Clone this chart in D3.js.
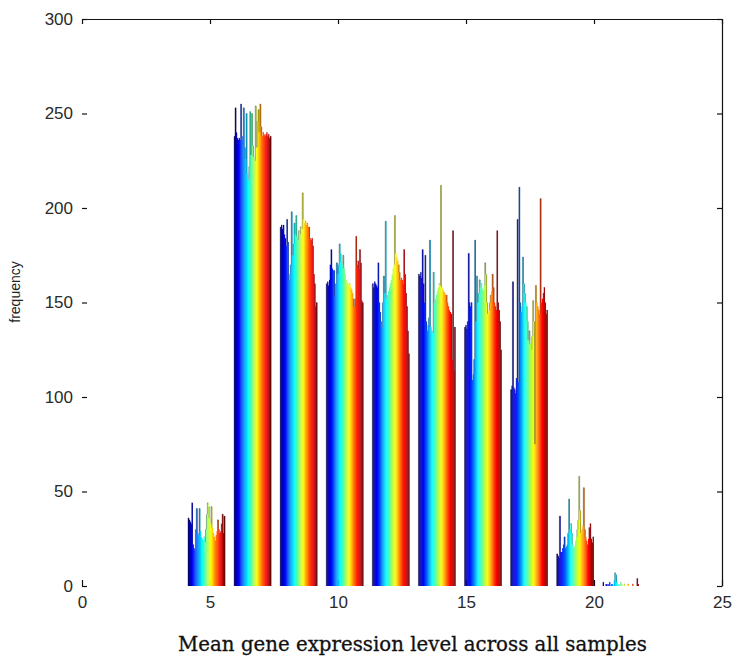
<!DOCTYPE html>
<html>
<head>
<meta charset="utf-8">
<script src="https://cdn.jsdelivr.net/npm/d3@7"></script>
<style>
  html, body { margin: 0; padding: 0; background: #fff; }
  svg { display: block; }
</style>
</head>
<body>
<svg id="chart" width="738" height="663"></svg>
<script>
// ---- data ----
const binCenters = [4.86, 6.66, 8.46, 10.26, 12.06, 13.86, 15.66, 17.46, 19.26, 21.06];
const xTicks = [0, 5, 10, 15, 20, 25];
const yTicks = [0, 50, 100, 150, 200, 250, 300];

const bin1 = [36,35,34,33,44, 22,20,19,30,41, 28,27,41,29,26, 25,24,26,23,30, 38,44,42,36,33, 42,31,28,26,24, 27,29,35,30,28, 29,33,38,28,37];
const bin2 = [238,253,240,237,236, 237,236,255,238,236, 253,232,226,250,218, 215,222,251,228,250, 233,227,225,254,232, 246,252,240,255,243, 238,240,239,238,239, 240,238,239,237,238];
const bin3 = [190,191,189,191,186, 184,180,194,182,162, 165,170,198,175,181, 192,186,196,185,183, 188,186,190,189,208, 194,192,193,191,192, 190,190,184,183,184, 180,165,160,148,150];
const bin4 = [160,161,159,162,170, 178,168,167,167,153, 160,171,165,170,181, 176,172,170,175,168, 165,162,161,160,159, 160,158,157,155,152, 148,152,185,170,172, 168,178,171,151,150];
const bin5 = [160,158,161,160,159, 158,171,150,145,140, 137,150,164,155,193, 152,154,156,158,160, 162,165,168,170,196, 176,174,172,170,166, 162,163,162,160,178, 165,155,148,135,123];
const bin6 = [165,164,166,163,178, 160,150,175,140,135, 138,142,183,137,135, 134,166,150,152,154, 156,158,160,159,212, 158,157,156,155,154, 154,150,148,146,145, 144,120,188,114,137];
const bin7 = [137,138,136,140,176, 150,148,150,109,112, 120,183,140,164,150, 155,162,158,160,157, 156,159,171,165,150, 144,146,150,154,156, 165,158,150,148,146, 188,150,146,140,125];
const bin8 = [104,106,161,105,104, 102,110,194,108,211, 150,145,148,174,160, 155,150,148,140,130, 135,128,125,132,151, 140,75,159,150,148, 146,144,205,150,152, 155,158,150,144,146];
const bin9 = [17,16,15,37,18, 18,20,22,26,20, 21,22,28,46,30, 33,28,22,20,21, 24,26,30,35,58, 40,28,30,32,52, 30,26,24,22,25, 31,33,25,23,26];
const bin10 = [2,0,0,1,1, 0,1,2,0,1, 1,0,3,7,6, 2,1,0,1,2, 1,0,0,1,0, 0,0,1,0,0, 0,0,1,0,0, 0,0,4,1,0];
const bins = [bin1, bin2, bin3, bin4, bin5, bin6, bin7, bin8, bin9, bin10];

const yLabel = "frequency";
const xTitle = "Mean gene expression level across all samples";

// ---- layout ----
const svg = d3.select("#chart");
const x = d3.scaleLinear().domain([0, 25]).range([82, 722]);
const y = d3.scaleLinear().domain([0, 300]).range([586, 19]);
const nSeries = bin1.length;
const binWidth = binCenters[1] - binCenters[0];
const groupW = x(binWidth * 0.8) - x(0);
const sub = d3.scaleBand().domain(d3.range(nSeries)).range([-groupW / 2, groupW / 2]);

function jet(t) {
  const c = v => Math.max(0, Math.min(1, v));
  const r = c(1.5 - Math.abs(4 * t - 3));
  const g = c(1.5 - Math.abs(4 * t - 2));
  const b = c(1.5 - Math.abs(4 * t - 1));
  return d3.rgb(r * 255, g * 255, b * 255).toString();
}
const color = i => jet(i / (nSeries - 1));

const tickFont = "Liberation Sans, Arial, sans-serif";

// axes (ticks inward, MATLAB style)
const gLeft = svg.append("g").attr("transform", `translate(${x(0)},0)`)
  .call(d3.axisLeft(y).tickValues(yTicks).tickSize(-5).tickSizeOuter(0).tickPadding(9));
gLeft.select(".domain").remove();
const gBottom = svg.append("g").attr("transform", `translate(0,${y(0)})`)
  .call(d3.axisBottom(x).tickValues(xTicks).tickSize(-6).tickSizeOuter(0).tickPadding(10));
gBottom.select(".domain").remove();
svg.append("g").attr("transform", `translate(0,${y(300)})`)
  .call(d3.axisTop(x).tickValues(xTicks).tickSize(-5).tickSizeOuter(0).tickFormat(""));
svg.append("g").attr("transform", `translate(${x(25)},0)`)
  .call(d3.axisRight(y).tickValues(yTicks).tickSize(-5).tickSizeOuter(0).tickFormat(""));

svg.selectAll(".tick text").attr("font-family", tickFont).attr("font-size", 17).attr("fill", "#2a2a2a");
svg.selectAll(".tick line, .domain").attr("stroke", "#111").attr("stroke-width", 1.2);

// bars
const bw = sub.bandwidth();
const groups = svg.append("g").selectAll("g.bin")
  .data(bins.map((vals, k) => ({ center: binCenters[k], vals })))
  .join("g").attr("class", "bin");

groups.each(function (d) {
  const g = d3.select(this);
  const cx = x(d.center);
  g.selectAll("rect")
    .data(d.vals.map((v, i) => ({ v, i })).filter(e => e.v > 0))
    .join("rect")
    .attr("x", e => cx + sub(e.i))
    .attr("width", bw + 0.35)
    .attr("y", e => y(e.v))
    .attr("height", e => y(0) - y(e.v))
    .attr("fill", e => color(e.i));
  // exposed edges of spikes (MATLAB black bar edges)
  const path = d3.path();
  d.vals.forEach((v, i) => {
    const l = i > 0 ? d.vals[i - 1] : 0;
    const r = i < d.vals.length - 1 ? d.vals[i + 1] : 0;
    const xl = cx + sub(i), xr = xl + bw;
    if (v - l > 3) { path.moveTo(xl, y(l)); path.lineTo(xl, y(v)); }
    if (v > l && v > r) { path.moveTo(xl, y(v)); path.lineTo(xr, y(v)); }
    if (v - r > 3) { path.moveTo(xr, y(v)); path.lineTo(xr, y(r)); }
  });
  g.append("path").attr("d", path.toString())
    .attr("fill", "none").attr("stroke", "#1a1a2a").attr("stroke-width", 0.5).attr("stroke-opacity", 0.7);
});

// labels
svg.append("text")
  .attr("transform", `translate(20,292) rotate(-90)`)
  .attr("text-anchor", "middle")
  .attr("font-family", tickFont).attr("font-size", 14).attr("fill", "#222")
  .text(yLabel);

const title = svg.append("text")
  .attr("x", 412.5).attr("y", 651)
  .attr("text-anchor", "middle")
  .attr("font-family", "'DejaVu Serif', serif").attr("font-size", 20).attr("fill", "#111")
  .attr("stroke", "#111").attr("stroke-width", 0.3)
  .text(xTitle);
// fit the title to the width it occupies in the picture (~469 px)
const natural = title.node().getComputedTextLength();
title.attr("font-size", 20 * 469 / natural);
</script>
</body>
</html>
